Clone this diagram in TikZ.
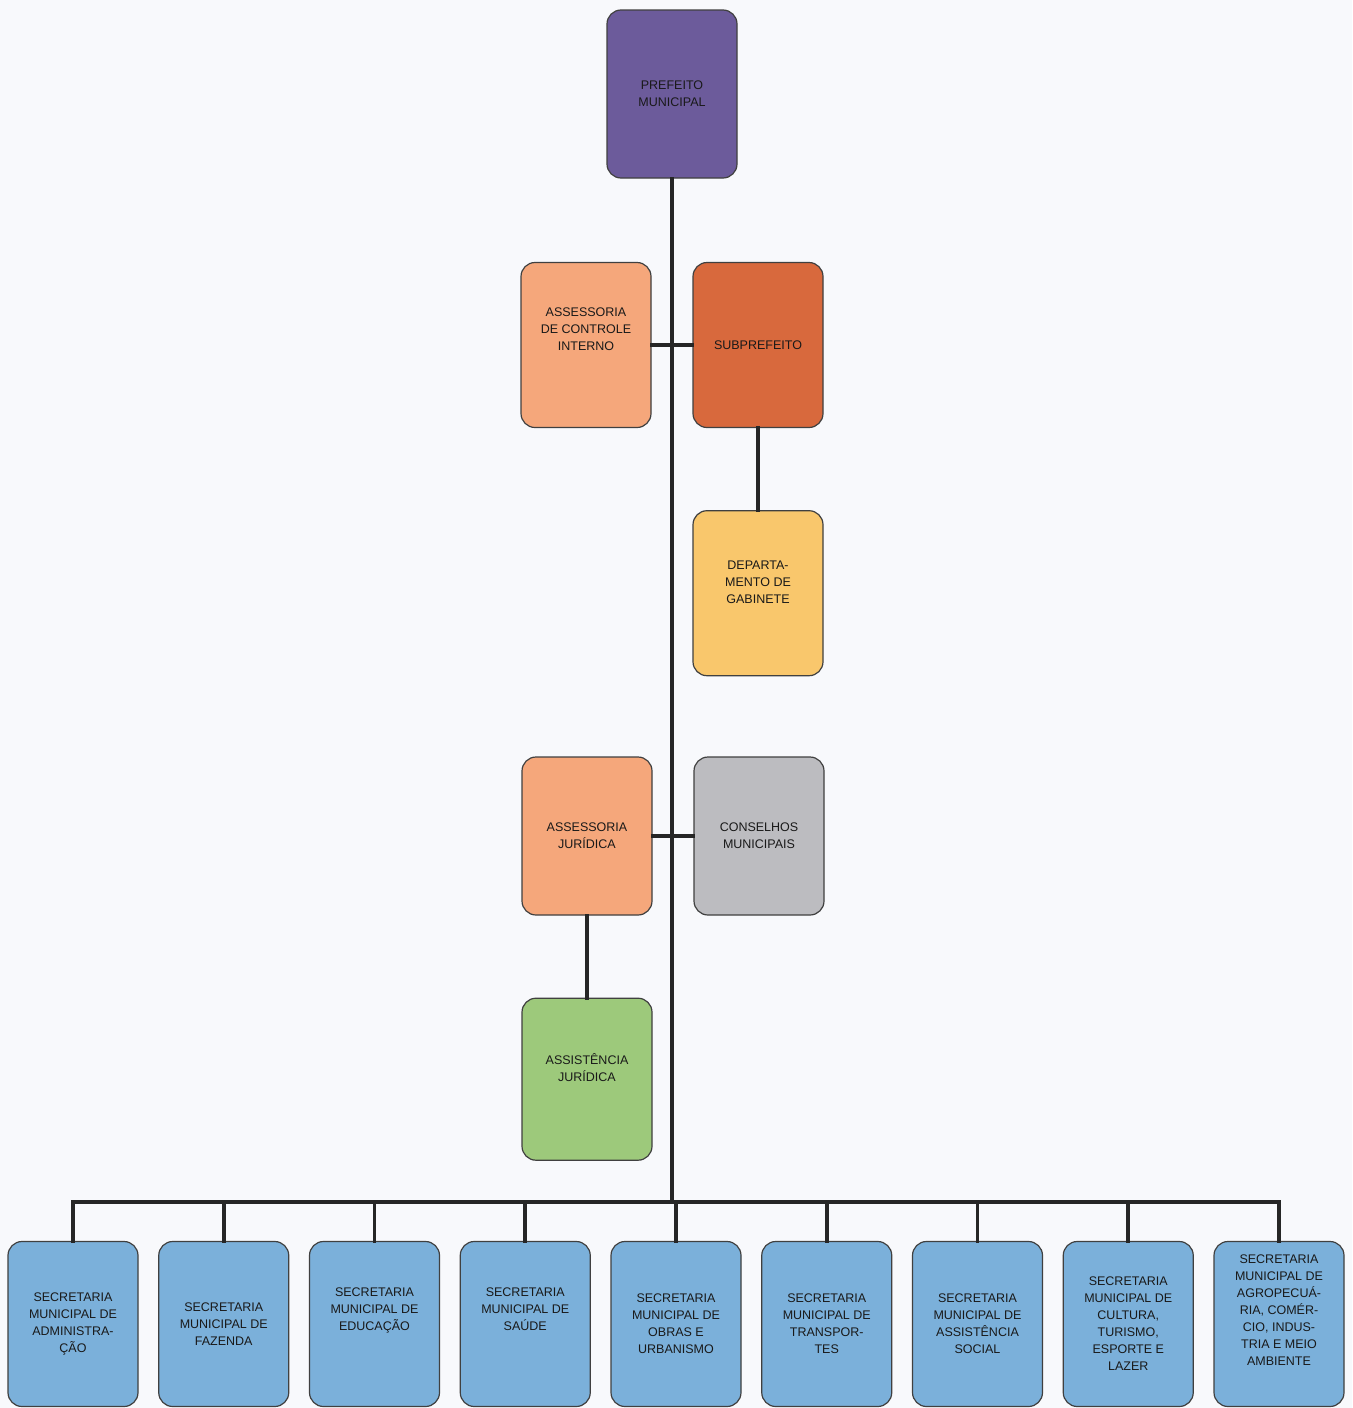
\documentclass[tikz,border=0pt]{standalone}
\usepackage{fontspec}
\setmainfont{Liberation Sans}
\usetikzlibrary{
  positioning
}
\definecolor{pagebg}{HTML}{F8F9FC}
\definecolor{prefeitocolor}{HTML}{6C5B9B}
\definecolor{assessoriacolor}{HTML}{F5A77B}
\definecolor{subprefeitocolor}{HTML}{D8693D}
\definecolor{gabinetecolor}{HTML}{F9C76C}
\definecolor{conselhoscolor}{HTML}{BCBCC0}
\definecolor{assistenciacolor}{HTML}{9DC97B}
\definecolor{secretariacolor}{HTML}{7BB0DA}

\begin{document}
\begin{tikzpicture}[x=1pt,y=-1pt,node distance=19.55pt,
  box/.style={
    rectangle,
    draw=black!75,
    line width=1.2pt,
    rounded corners=14pt,
    minimum width=130pt,
    minimum height=165pt,
    align=center,
    text=black!90,
    font=\fontsize{12.5}{17}\selectfont
  },
  secbox/.style={box, fill=secretariacolor},
  link/.style={draw=black!85, line width=3.8pt, line cap=rect}
]

\fill[pagebg] (0,0) rectangle (1352,1408);
\useasboundingbox (0,0) rectangle (1352,1408);

\node[box, fill=prefeitocolor, minimum height=168pt] (prefeito) at (672,94) {PREFEITO\\MUNICIPAL};
\node[box, fill=assessoriacolor] (controle) at (586,345) {ASSESSORIA\\DE CONTROLE\\INTERNO\\[14pt]};
\node[box, fill=subprefeitocolor] (subprefeito) at (758,345) {SUBPREFEITO};
\node[box, fill=gabinetecolor, below=82pt of subprefeito] (gabinete) {DEPARTA-\\MENTO DE\\GABINETE\\[6pt]};
\node[box, fill=assessoriacolor, minimum height=158pt] (juridica) at (587,836) {ASSESSORIA\\JURÍDICA};
\node[box, fill=conselhoscolor, minimum height=158pt] (conselhos) at (759,836) {CONSELHOS\\MUNICIPAIS};
\node[box, fill=assistenciacolor, minimum height=162pt, below=82pt of juridica] (assistencia) {ASSISTÊNCIA\\JURÍDICA\\[6pt]};

% secretarias
\node[secbox] (secretaria-1) at (73,1324) {SECRETARIA\\MUNICIPAL DE\\ADMINISTRA-\\ÇÃO};
\node[secbox, right=of secretaria-1] (secretaria-2) {SECRETARIA\\MUNICIPAL DE\\FAZENDA};
\node[secbox, right=of secretaria-2] (secretaria-3) {SECRETARIA\\MUNICIPAL DE\\EDUCAÇÃO\\[12pt]};
\node[secbox, right=of secretaria-3] (secretaria-4) {SECRETARIA\\MUNICIPAL DE\\SAÚDE\\[12pt]};
\node[secbox, right=of secretaria-4] (secretaria-5) {SECRETARIA\\MUNICIPAL DE\\OBRAS E\\URBANISMO};
\node[secbox, right=of secretaria-5] (secretaria-6) {SECRETARIA\\MUNICIPAL DE\\TRANSPOR-\\TES};
\node[secbox, right=of secretaria-6] (secretaria-7) {SECRETARIA\\MUNICIPAL DE\\ASSISTÊNCIA\\SOCIAL};
\node[secbox, right=of secretaria-7] (secretaria-8) {SECRETARIA\\MUNICIPAL DE\\CULTURA,\\TURISMO,\\ESPORTE E\\LAZER};
\node[secbox, right=of secretaria-8] (secretaria-9) {SECRETARIA\\MUNICIPAL DE\\AGROPECUÁ-\\RIA, COMÉR-\\CIO, INDUS-\\TRIA E MEIO\\AMBIENTE\\[10pt]};

\coordinate (bus) at (672,1202);

% tronco e ramos
\draw[link] (prefeito.south) -- (bus);
\draw[link] (controle.east) -- (subprefeito.west);
\draw[link] (subprefeito.south) -- (gabinete.north);
\draw[link] (juridica.east) -- (conselhos.west);
\draw[link] (juridica.south) -- (assistencia.north);
\draw[link] (bus -| secretaria-1) -- (bus -| secretaria-9);
\foreach \i in {1,...,9}
  \draw[link] (secretaria-\i.north) -- (secretaria-\i.north |- bus);

\end{tikzpicture}
\end{document}
